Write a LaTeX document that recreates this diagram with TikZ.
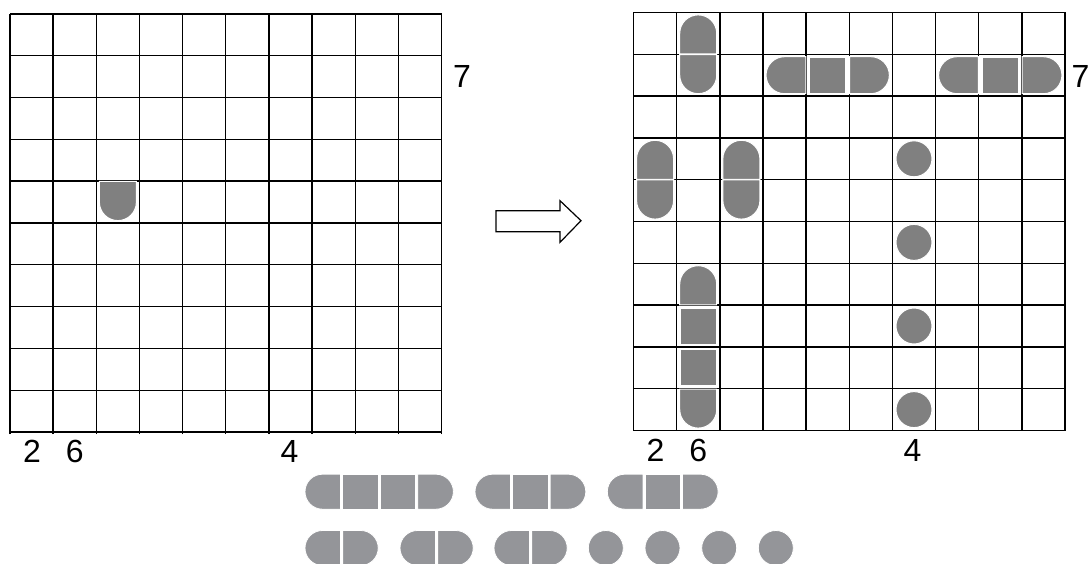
\documentclass[tikz,border=0pt]{standalone}
\usepackage{fontspec}
\setmainfont{Liberation Sans}
\definecolor{pieceGray}{RGB}{128,128,128}
\definecolor{trayGray}{RGB}{148,149,153}

% parts of a piece, drawn round the centre of a board cell
\newcommand{\partT}{\filldraw[piece] (-18.5,-20.6) -- (-18.5,0) arc[start angle=180, end angle=0, radius=18.5] -- (18.5,-20.6) -- cycle;}
\newcommand{\partB}{\filldraw[piece] (-18.5,20.6) -- (-18.5,0) arc[start angle=180, end angle=360, radius=18.5] -- (18.5,20.6) -- cycle;}
\newcommand{\partL}{\filldraw[piece] (21.3,18.5) -- (0,18.5) arc[start angle=90, end angle=270, radius=18.5] -- (21.3,-18.5) -- cycle;}
\newcommand{\partR}{\filldraw[piece] (-21.3,18.5) -- (0,18.5) arc[start angle=90, end angle=-90, radius=18.5] -- (-21.3,-18.5) -- cycle;}
\newcommand{\partS}{\filldraw[piece] (-18,-18) rectangle (18,18);}
\newcommand{\partC}{\filldraw[piece] (0,0) circle[radius=18];}
\newcommand{\cellpart}[3]{\begin{scope}[shift={({(#2+0.5)*43.15},{-(#3+0.5)*41.8})}]\csname part#1\endcsname\end{scope}}

% parts of the spare pieces below the boards
\newcommand{\trayL}[2]{\filldraw[tray] ({#1+35.6},{#2+17.5}) -- ({#1+17.5},{#2+17.5}) arc[start angle=90, end angle=270, radius=17.5] -- ({#1+35.6},{#2-17.5}) -- cycle;}
\newcommand{\trayS}[2]{\filldraw[tray] (#1,{#2-17.5}) rectangle ({#1+35.6},{#2+17.5});}
\newcommand{\trayR}[2]{\filldraw[tray] (#1,{#2+17.5}) -- ({#1+18.1},{#2+17.5}) arc[start angle=90, end angle=-90, radius=17.5] -- (#1,{#2-17.5}) -- cycle;}
\newcommand{\trayC}[2]{\filldraw[tray] (#1,#2) circle[radius=17.5];}

\begin{document}
\begin{tikzpicture}[x=1pt, y=1pt,
  gridline/.style={line width=1.4pt},
  piece/.style={fill=pieceGray, draw=white, line width=1pt},
  tray/.style={fill=trayGray, draw=white, line width=0.8pt},
  digit/.style={font=\fontsize{32}{34}\selectfont, inner sep=0pt}]
\useasboundingbox (0,0) rectangle (1089,563);

% left board
\begin{scope}[shift={(10,549)}]
\draw[gridline, xstep=43.15, ystep=41.8] (0,-420.2) grid (431.6,0);
\cellpart{B}{2}{4}
\end{scope}
\node[digit] (lblSevenL) at (462,486.3) {7};
\node[digit] (lblTwoL) at (32,111.3) {2};
\node[digit] (lblSixL) at (74.7,111.3) {6};
\node[digit] (lblFourL) at (289.5,111.3) {4};

% arrow
\draw[line width=1.2pt] (496,352.3) -- (560,352.3) -- (560,362.3) -- (581,342.3)
    -- (560,320.7) -- (560,331.3) -- (496,331.3) -- cycle;

% right board
\begin{scope}[shift={(633.5,550.5)}]
\draw[gridline, xstep=43.15, ystep=41.8] (0,-418.1) grid (431.6,0);
\cellpart{T}{1}{0} \cellpart{B}{1}{1}
\cellpart{L}{3}{1} \cellpart{S}{4}{1} \cellpart{R}{5}{1}
\cellpart{L}{7}{1} \cellpart{S}{8}{1} \cellpart{R}{9}{1}
\cellpart{T}{0}{3} \cellpart{B}{0}{4}
\cellpart{T}{2}{3} \cellpart{B}{2}{4}
\foreach \r in {3,5,7,9} {\cellpart{C}{6}{\r}}
\cellpart{T}{1}{6} \cellpart{S}{1}{7} \cellpart{S}{1}{8} \cellpart{B}{1}{9}
\end{scope}
\node[digit] (lblSevenR) at (1080.5,486.3) {7};
\node[digit] (lblTwoR) at (655.5,113) {2};
\node[digit] (lblSixR) at (698.3,113) {6};
\node[digit] (lblFourR) at (912.5,113) {4};

% spare pieces
\trayL{305}{71.3} \trayS{342.6}{71.3} \trayS{380.2}{71.3} \trayR{417.8}{71.3}
\trayL{475}{71.3} \trayS{512.6}{71.3} \trayR{550.2}{71.3}
\trayL{607.3}{71.3} \trayS{644.9}{71.3} \trayR{682.5}{71.3}
\trayL{305}{15} \trayR{342.6}{15}
\trayL{400}{15} \trayR{437.6}{15}
\trayL{494}{15} \trayR{531.6}{15}
\foreach \cx in {605.8,662.5,719.2,775.8} {\trayC{\cx}{15}}
\end{tikzpicture}
\end{document}
